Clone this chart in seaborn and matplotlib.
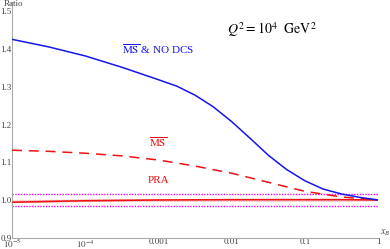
import numpy as np
import pandas as pd
import matplotlib
matplotlib.use("Agg")
import matplotlib.pyplot as plt
from matplotlib.ticker import FixedLocator, NullFormatter, LogLocator
import seaborn as sns

sns.set_theme(style="white")
plt.rcParams['font.family'] = ['Liberation Serif', 'DejaVu Serif']
plt.rcParams['mathtext.fontset'] = 'stix'

# ---- data (log10 x_B, ratio) ----
blue_logx = [-5, -4.5, -4, -3.5, -3, -2.75, -2.5, -2.25, -2, -1.75, -1.5, -1.25, -1, -0.75, -0.5, -0.25, 0]
blue_ratio = [1.426, 1.406, 1.382, 1.352, 1.319, 1.302, 1.278, 1.247, 1.208, 1.164, 1.119, 1.081, 1.051, 1.029, 1.016, 1.007, 1.000]

ms_logx = [-5, -4.5, -4, -3.5, -3, -2.5, -2, -1.5, -1, -0.5, 0]
ms_ratio = [1.132, 1.129, 1.124, 1.117, 1.106, 1.090, 1.071, 1.047, 1.023, 1.008, 1.000]

pra_logx = [-5, -4.5, -4, -3.5, -3, -2, -1, -0.5, 0]
pra_ratio = [0.994, 0.996, 0.998, 0.999, 1.000, 1.001, 1.001, 1.001, 1.000]

band_logx = [-5, -4, -3, -2, -1, -0.5, 0]
band_ratio = [0.995, 0.998, 0.999, 0.999, 0.999, 0.999, 1.000]

upper_lim = 1.015
lower_lim = 0.985

ytick_vals = [0.9, 1.0, 1.1, 1.2, 1.3, 1.4, 1.5]
xtick_vals = [1e-5, 1e-4, 1e-3, 1e-2, 1e-1, 1]
xtick_labels = [r'$10^{-5}$', r'$10^{-4}$', '0.001', '0.01', '0.1', '1']

def frame(lx, r, name):
    return pd.DataFrame({'x': 10.0 ** np.array(lx), 'ratio': r, 'curve': name})

df_blue = frame(blue_logx, blue_ratio, 'blue')
df_ms = frame(ms_logx, ms_ratio, 'ms')
df_pra = frame(pra_logx, pra_ratio, 'pra')
df_band = frame(band_logx, band_ratio, 'band')

fig = plt.figure(figsize=(3.9, 2.49), dpi=100)
ax = fig.add_axes([12/390, 11.3/249, 366/390, 235.7/249])

gray = '#777777'

ax.axhline(upper_lim, color='#ff00ff', lw=1.0, ls=(0, (1, 1)), zorder=2)
ax.axhline(lower_lim, color='#ff00ff', lw=1.0, ls=(0, (1, 1)), zorder=2)

sns.lineplot(data=df_band, x='x', y='ratio', ax=ax, color='#f6b0b0', lw=1.8, zorder=3)
sns.lineplot(data=df_pra, x='x', y='ratio', ax=ax, color='#ee1111', lw=1.1, zorder=4)
sns.lineplot(data=df_ms, x='x', y='ratio', ax=ax, color='#ee1111', lw=1.1,
             dashes=False, zorder=4).lines[-1].set_dashes((6.5, 4.5))
sns.lineplot(data=df_blue, x='x', y='ratio', ax=ax, color='#1515ee', lw=1.1, zorder=5)

ax.set_xscale('log')
ax.set_xlim(1e-5, 1.0)
ax.set_ylim(0.9, 1.525)

ax.set_xticks(xtick_vals)
ax.set_xticklabels(xtick_labels)
ax.xaxis.set_minor_locator(LogLocator(base=10, subs=np.arange(2, 10)))
ax.xaxis.set_minor_formatter(NullFormatter())
ax.set_yticks(ytick_vals)
ax.set_yticklabels([f'{v:.1f}' for v in ytick_vals])
ax.yaxis.set_minor_locator(FixedLocator(np.arange(0.9, 1.52, 0.02)))

ax.tick_params(axis='both', which='major', direction='in', length=3, width=0.6,
               color=gray, labelsize=6.5, labelcolor='#444444', pad=0.5)
ax.tick_params(axis='both', which='minor', direction='in', length=1.6, width=0.5, color=gray)
ax.tick_params(axis='y', pad=0.5)
for lab in ax.get_xticklabels():
    lab.set_va('top')

for s in ['top', 'right']:
    ax.spines[s].set_visible(False)
for s in ['left', 'bottom']:
    ax.spines[s].set_color('#aaaaaa')
    ax.spines[s].set_linewidth(0.8)

ax.set_xlabel('')
ax.set_ylabel('')
ax.set_facecolor('none')

fig.text(4/390, 1 - 4.5/249, 'Ratio', fontsize=6.5, color='#444444', va='center', ha='left')
ax.text(1.006, 0.0, r'$x_B$', transform=ax.transAxes, fontsize=7, color='#444444',
        ha='left', va='bottom')

ax.text(10 ** -1.45, 1.451, r'$Q^2 = 10^4\ \ {\rm GeV}^2$', fontsize=10, color='black',
        ha='center', va='center')
ax.text(1e-3, 1.40, r'$\overline{\rm MS}$ & NO DCS', fontsize=8, color='#1515ee',
        ha='center', va='center')
ax.text(1e-3, 1.154, r'$\overline{\rm MS}$', fontsize=8, color='#ee1111', ha='center', va='center')
ax.text(1e-3, 1.053, 'PRA', fontsize=8, color='#ee1111', ha='center', va='center')

fig.savefig('out.png', dpi=100)
